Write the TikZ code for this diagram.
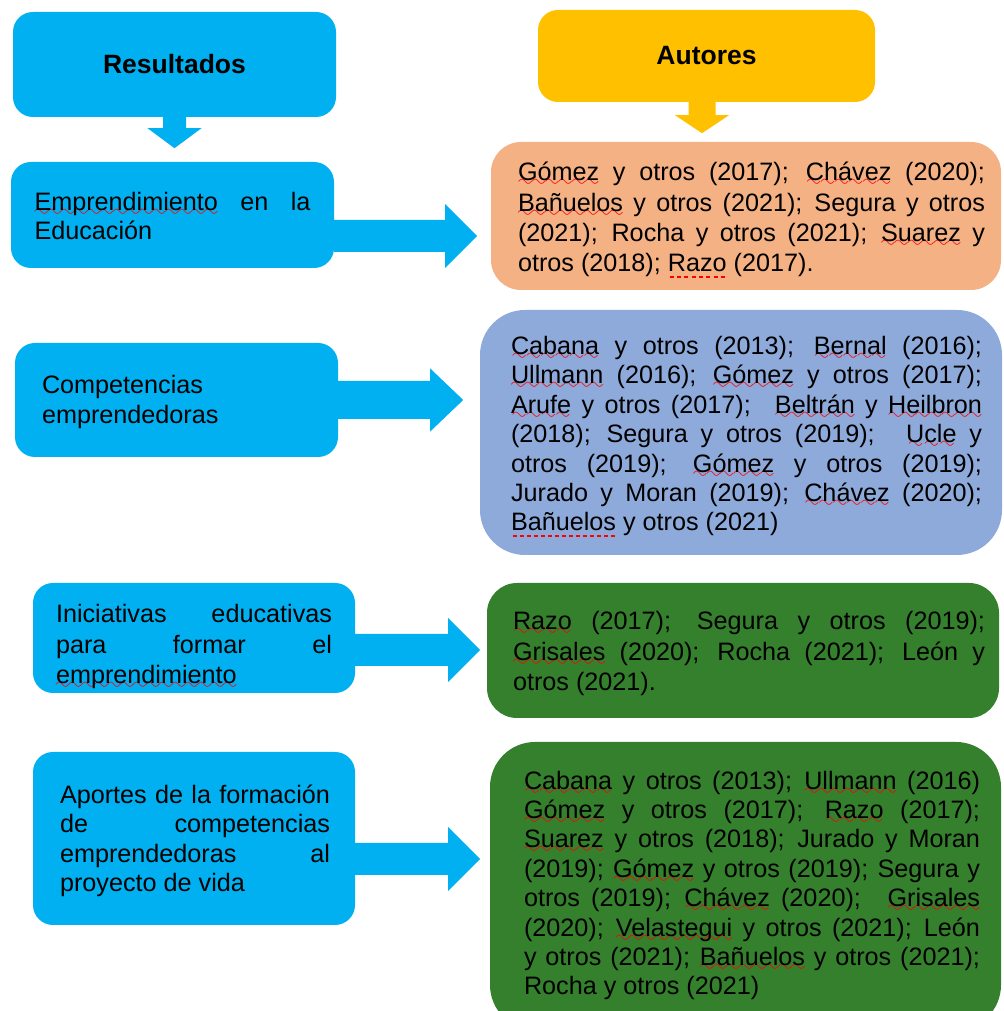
\documentclass[tikz,border=0pt]{standalone}
\usepackage{fontspec}
\setmainfont{Liberation Sans}
\usepackage{xcolor}
\usetikzlibrary{positioning}

% red marks under words
\font\wavefont=lasy10 at 19pt
\newsavebox\markbox
\newcommand{\wv}[1]{\sbox\markbox{#1}\leavevmode\rlap{\color{red}\lower6pt\hbox to \wd\markbox{\xleaders\hbox{\wavefont\char58}\hfill}}\usebox\markbox}
\newcommand{\dsh}[1]{\sbox\markbox{#1}\leavevmode\rlap{\color{red}\hbox to \wd\markbox{\xleaders\hbox{\kern1.5pt\vrule width 4pt height -4.5pt depth 6pt\kern1.5pt}\hfill}}\usebox\markbox}

% block arrows: start, shaft half, shaft length, head half, head length
\newcommand{\rarrow}[5]{\fill[r0g176b240] #1 ++(0,#2) -- ++(#3,0) -- ++(0,#4-#2) -- ++(#5,-#4) -- ++(-#5,-#4) -- ++(0,#4-#2) -- ++(-#3,0) -- cycle;}
\newcommand{\darrow}[6]{\fill[#1] #2 ++(-#3,0) -- ++(0,-#4) -- ++(#3-#5,0) -- ++(#5,-#6) -- ++(#5,#6) -- ++(#3-#5,0) -- ++(0,#4) -- cycle;}

\begin{document}
\begin{tikzpicture}[x=1pt,y=1pt,
    resbox/.style={fill=r0g176b240, rounded corners=20pt, inner sep=0pt},
    txt/.style={inner sep=0pt, text width=#1, align=justify, font=\fontsize{25.2}{29.4}\selectfont},
    wide/.style={font=\fontsize{25.2}{30.2}\selectfont},
    head/.style={font=\fontsize{26.5}{30}\selectfont\bfseries}]
  \clip (0,0) rectangle (1003,1011);

  % Changing colors
  \definecolor{r0g176b240}{RGB}{0,176,240}%
  \definecolor{r255g192b0}{RGB}{255,192,0}%
  \definecolor{r244g177b131}{RGB}{244,177,131}%
  \definecolor{r142g170b219}{RGB}{142,170,219}%
  \definecolor{r53g128b45}{RGB}{53,128,45}%

  % Headers
  \node [resbox, minimum width=323pt, minimum height=105pt, head] (res0) at (174.5,946.5) {Resultados};%
  \node [fill=r255g192b0, rounded corners=20pt, minimum width=337pt, minimum height=92pt, head] (aut0) at (706.5,955) {Autores};%
  \darrow{r0g176b240}{(res0.south)}{11.5}{11}{27}{20}%
  \darrow{r255g192b0}{([xshift=-4.5pt]aut0.south)}{13.5}{13}{27}{18}%

  % Row 1
  \node [resbox, minimum width=323pt, minimum height=106pt] (res1) at (172.5,796) {};%
  \node [txt=276pt, right=23.5pt of res1.west, yshift=-1pt] (res1t) {\wv{Emprendimiento} en la\linebreak Educación};%
  \node [fill=r244g177b131, rounded corners=30pt, minimum width=510pt, minimum height=148pt] (aut1) at (746,795) {};%
  \node [txt=467pt, wide, right=27pt of aut1.west, yshift=-4pt] (aut1t) {\wv{Gómez} y otros (2017); \wv{Chávez} (2020);\linebreak
    \wv{Bañuelos} y otros (2021); Segura y otros\linebreak
    (2021); Rocha y otros (2021); \wv{Suarez} y\linebreak
    otros (2018); \dsh{Razo} (2017).};%
  \rarrow{(res1.east |- 0,775)}{16}{111}{32}{32}%

  % Row 2
  \node [resbox, minimum width=323pt, minimum height=114pt] (res2) at (176.5,611) {};%
  \node [txt=276pt, align=left, right=27pt of res2.west, yshift=-2pt] (res2t) {Competencias\\ emprendedoras};%
  \node [fill=r142g170b219, rounded corners=45pt, minimum width=522pt, minimum height=245pt] (aut2) at (741,578.5) {};%
  \node [txt=471pt, right=31pt of aut2.west, yshift=-4pt] (aut2t) {\wv{Cabana} y otros (2013); \wv{Bernal} (2016);\linebreak
    \wv{Ullmann} (2016); \wv{Gómez} y otros (2017);\linebreak
    \wv{Arufe} y otros (2017);\space\space\wv{Beltrán} y \wv{Heilbron}\linebreak
    (2018); Segura y otros (2019);\space\space\wv{Ucle} y\linebreak
    otros (2019); \wv{Gómez} y otros (2019);\linebreak
    Jurado y Moran (2019); \wv{Chávez} (2020);\linebreak
    \dsh{Bañuelos} y otros (2021)};%
  \rarrow{(res2.east |- 0,611)}{19}{92}{31.5}{33}%

  % Row 3
  \node [resbox, minimum width=322pt, minimum height=110pt] (res3) at (194,373) {};%
  \node [txt=276pt, wide, right=23pt of res3.west, yshift=-9pt] (res3t) {Iniciativas educativas\linebreak
    para formar el\linebreak \wv{emprendimiento}};%
  \node [fill=r53g128b45, rounded corners=30pt, minimum width=512pt, minimum height=135pt] (aut3) at (743,360.5) {};%
  \node [txt=472pt, wide, right=26pt of aut3.west, yshift=-3pt] (aut3t) {\wv{Razo} (2017); Segura y otros (2019);\linebreak
    \wv{Grisales} (2020); Rocha (2021); León y\linebreak
    otros (2021).};%
  \rarrow{(res3.east |- 0,361)}{16}{93}{32}{32}%

  % Row 4
  \node [resbox, minimum width=322pt, minimum height=173pt] (res4) at (194,172.5) {};%
  \node [txt=270pt, right=27pt of res4.west, yshift=-2.5pt] (res4t) {Aportes de la formación\linebreak
    de competencias\linebreak emprendedoras al\linebreak proyecto de vida};%
  \node [fill=r53g128b45, rounded corners=45pt, minimum width=511pt, minimum height=288pt] (aut4) at (745.5,125) {};%
  \node [txt=456pt, right=34pt of aut4.west, yshift=0.5pt] (aut4t) {\wv{Cabana} y otros (2013); \wv{Ullmann} (2016)\linebreak
    \wv{Gómez} y otros (2017); \wv{Razo} (2017);\linebreak
    \wv{Suarez} y otros (2018); Jurado y Moran\linebreak
    (2019); \wv{Gómez} y otros (2019); Segura y\linebreak
    otros (2019); \wv{Chávez} (2020);\space\space\wv{Grisales}\linebreak
    (2020); \wv{Velastegui} y otros (2021); León\linebreak
    y otros (2021); \wv{Bañuelos} y otros (2021);\linebreak
    Rocha y otros (2021)};%
  \rarrow{(res4.east |- 0,152)}{16}{93}{32}{32}%
\end{tikzpicture}
\end{document}
